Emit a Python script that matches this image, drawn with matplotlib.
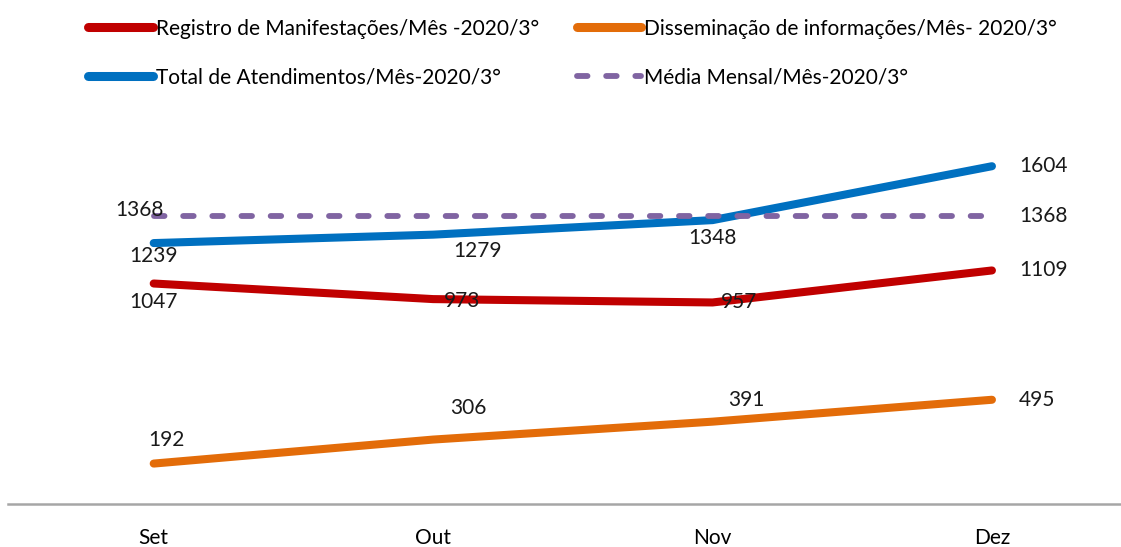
import matplotlib
matplotlib.use("Agg")
import matplotlib.pyplot as plt
from matplotlib.lines import Line2D

months = ["Set", "Out", "Nov", "Dez"]
registro = [1047, 973, 957, 1109]
dissem = [192, 306, 391, 495]
total = [1239, 1279, 1348, 1604]
media = [1368, 1368, 1368, 1368]

names = ["Registro de Manifestações/Mês -2020/3°",
         "Disseminação de informações/Mês- 2020/3°",
         "Total de Atendimentos/Mês-2020/3°",
         "Média Mensal/Mês-2020/3°"]

plt.rcParams['font.family'] = ['Lato', 'DejaVu Sans']
FS = 15

fig = plt.figure(figsize=(11.21, 5.47), dpi=100)
ax = fig.add_axes([0.0075, 0.0786, 1.002, 0.693])
x = range(len(months))

c_red, c_blue, c_orange, c_purple = "#C00000", "#0070C0", "#E36C09", "#8064A2"
dash = (0, (1.8, 3.2))
ax.plot(x, registro, color=c_red, lw=5.8, solid_capstyle='round', solid_joinstyle='round')
ax.plot(x, dissem, color=c_orange, lw=5.8, solid_capstyle='round', solid_joinstyle='round')
ax.plot(x, total, color=c_blue, lw=5.8, solid_capstyle='round', solid_joinstyle='round')
ax.plot(x, media, color=c_purple, lw=4.2, ls=dash, dash_capstyle='round')

ax.set_xlim(-0.52, 3.5)
ax.set_ylim(0, 1800)

def lab(series, offsets):
    for i, (v, (dx, dy, ha)) in enumerate(zip(series, offsets)):
        ax.annotate(str(v), (i, v), xytext=(dx, -dy), textcoords='offset pixels',
                    ha=ha, va='center', fontsize=FS, color='#1a1a1a')

lab(registro, [(0, 18, 'center'), (29, 2, 'center'), (27, 0, 'center'), (27, 0, 'left')])
lab(total, [(0, 13, 'center'), (44, 16, 'center'), (0, 18, 'center'), (27, 0, 'left')])
lab(dissem, [(13, -24, 'center'), (35, -32, 'center'), (34, -22, 'center'), (27, 0, 'left')])
ax.annotate(str(media[0]), (0, media[0]), xytext=(-14, 6), textcoords='offset pixels',
            ha='center', va='center', fontsize=FS, color='#1a1a1a')
ax.annotate(str(media[3]), (3, media[3]), xytext=(27, 0), textcoords='offset pixels',
            ha='left', va='center', fontsize=FS, color='#1a1a1a')

for s in ['top', 'right', 'left']:
    ax.spines[s].set_visible(False)
ax.spines['bottom'].set_color('#A6A6A6')
ax.spines['bottom'].set_linewidth(1.8)
ax.set_yticks([])
ax.set_xticks(list(x))
ax.set_xticklabels(months, fontsize=FS)
ax.tick_params(axis='x', length=0, pad=17)

h = {
    0: Line2D([], [], color=c_red, lw=6.5, solid_capstyle='round'),
    1: Line2D([], [], color=c_orange, lw=6.5, solid_capstyle='round'),
    2: Line2D([], [], color=c_blue, lw=6.5, solid_capstyle='round'),
    3: Line2D([], [], color=c_purple, lw=4.2, ls=dash, dash_capstyle='round'),
}
order = [0, 2, 1, 3]
fig.legend([h[i] for i in order], [names[i] for i in order], ncol=2, loc='upper left',
           bbox_to_anchor=(0.062, 1.0), frameon=False, fontsize=FS, handlelength=3.1,
           handletextpad=0.15, columnspacing=1.8, labelspacing=1.38)

fig.savefig("out.png", dpi=100)
